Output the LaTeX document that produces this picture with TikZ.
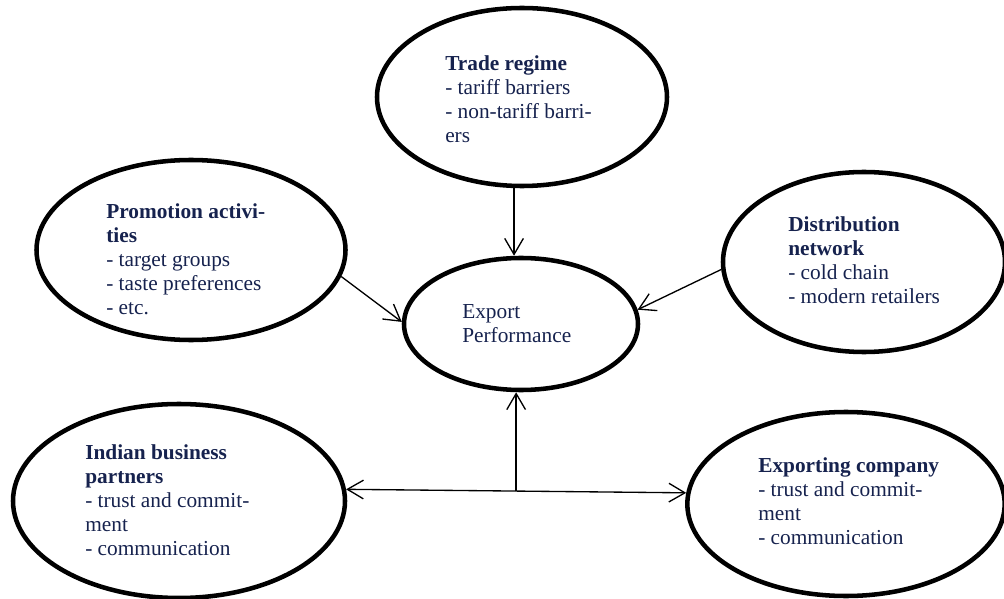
\documentclass[tikz,border=0pt]{standalone}
\usepackage{fontspec}
\setmainfont{Liberation Serif}
\usetikzlibrary{shapes.geometric,arrows.meta,calc}
\definecolor{textnavy}{RGB}{22,34,78}
\tikzset{
  factor/.style={draw, ellipse, line width=3.4pt, inner sep=0pt},
  factortext/.style={anchor=north west, inner sep=0pt, align=left, text=textnavy, font=\fontsize{16}{18}\selectfont},
  conn/.style={line width=1pt, -{Straight Barb[length=12pt,width=14pt]}}
}
\begin{document}
\begin{tikzpicture}[x=0.75pt,y=-0.75pt] %pixel units
  \useasboundingbox (0,0) rectangle (1004,599);
    %Ellipses
  \node[factor, minimum width=217.5pt, minimum height=133.5pt] (trade) at (522,97) {};
  \node[factor, minimum width=231.75pt, minimum height=135pt] (promo) at (191,250) {};
  \node[factor, minimum width=211.5pt, minimum height=135pt] (dist) at (864,262) {};
  \node[factor, minimum width=175.5pt, minimum height=99pt] (ep) at (521,324) {};
  \node[factor, minimum width=249pt, minimum height=145.5pt] (indian) at (179,501) {};
  \node[factor, minimum width=238pt, minimum height=138pt] (exporting) at (846,504) {};
    %Texts
  \node[factortext] (tradetext) at (445,55.5) {\textbf{Trade regime}\\- tariff barriers\\- non-tariff barri-\\ers};
  \node[factortext] (promotext) at (106,203) {\textbf{Promotion activi-}\\\textbf{ties}\\- target groups\\- taste preferences\\- etc.};
  \node[factortext] (disttext) at (788,216.5) {\textbf{Distribution}\\\textbf{network}\\- cold chain\\- modern retailers};
  \node[factortext] (eptext) at (462,304) {Export\\Performance};
  \node[factortext] (indiantext) at (85,444.5) {\textbf{Indian business}\\\textbf{partners}\\- trust and commit-\\ment\\- communication};
  \node[factortext] (exportingtext) at (758,457.5) {\textbf{Exporting company}\\- trust and commit-\\ment\\- communication};
    %Arrows
  \draw[conn] (trade.265) -- (trade.265 |- ep.north);
  \draw[conn] (promo.-10) -- (ep.179);
  \draw[conn] (dist.183) -- (ep.7);
  \coordinate (junc) at ($(indian.4)!0.5!(exporting.176)$); %junction of the lower arrows
  \draw[conn] (junc) -- (junc |- ep.south);
  \draw[conn, {Straight Barb[length=12pt,width=14pt]}-{Straight Barb[length=12pt,width=14pt]}] (indian.4) -- (exporting.176);
\end{tikzpicture}
\end{document}
